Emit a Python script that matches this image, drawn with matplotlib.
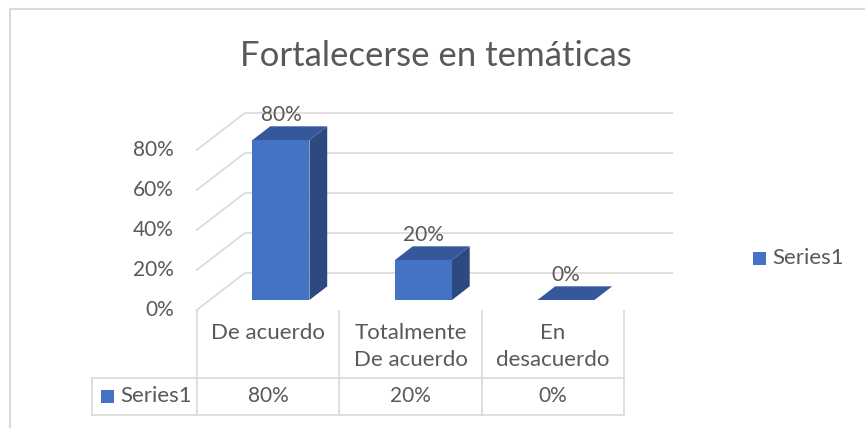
import matplotlib
import matplotlib.pyplot as plt
from matplotlib.patches import Polygon, Rectangle

matplotlib.use("Agg")

## Data
categories = ["De acuerdo", "Totalmente\nDe acuerdo", "En\ndesacuerdo"]
values = [0.80, 0.20, 0.00]
series_name = "Series1"
y_ticks = [0.0, 0.2, 0.4, 0.6, 0.8]
title = "Fortalecerse en temáticas"

## Style
FONT = "Lato"
TXT = "#595959"
GRID = "#D9D9D9"
FRONT, TOP, SIDE = "#4472C4", "#34589A", "#2C4A80"
W, H = 865, 428
FS_NUM, FS_WORD = 15, 16

# oblique depth: full depth shift in (category units, value units)
DX, DY = 48 / 142.5, 37 / 200
D1, D2 = 0.27, 0.64  # bar front/back depth fractions
BAR_W = 0.40

fig = plt.figure(figsize=(W / 100, H / 100), dpi=100)
ax = fig.add_axes([0, 0, 1, 1])
ax.set_xlim(-268 / 142.5, (W - 268) / 142.5)
ax.set_ylim(-118 / 200, (H - 118) / 200)
ax.axis("off")


def proj(x, v, d):
    return (x + d * DX, v + d * DY)


# chart border
fig.add_artist(plt.Line2D([10 / W, 10 / W, 1], [0, 1 - 9 / H, 1 - 9 / H],
                          transform=fig.transFigure, color=GRID, lw=1.5))

ax.text(0.504, 1 - 56 / H, title, transform=ax.transAxes, ha="center", va="center",
        fontsize=25, color=TXT, family=FONT)

# gridlines on side + back wall
x_left, x_right = -0.5, len(categories) - 0.5
for t in y_ticks:
    p0, p1, p2 = proj(x_left, t, 0), proj(x_left, t, 1), proj(x_right, t, 1)
    ax.plot([p0[0], p1[0], p2[0]], [p0[1], p1[1], p2[1]], color=GRID, lw=1.2, zorder=1)
    ax.annotate(f"{t:.0%}", p0, xytext=(-23, 0), textcoords="offset pixels",
                ha="right", va="center", fontsize=FS_NUM, color=TXT, family=FONT)

# 3D bars
for i, v in enumerate(values):
    l, r = i - BAR_W / 2, i + BAR_W / 2
    front = [proj(l, 0, D1), proj(r, 0, D1), proj(r, v, D1), proj(l, v, D1)]
    top = [proj(l, v, D1), proj(r, v, D1), proj(r, v, D2), proj(l, v, D2)]
    side = [proj(r, 0, D1), proj(r, 0, D2), proj(r, v, D2), proj(r, v, D1)]
    if v > 0:
        ax.add_patch(Polygon(side, closed=True, fc=SIDE, ec="none", zorder=3))
        ax.add_patch(Polygon(front, closed=True, fc=FRONT, ec="none", zorder=4))
    ax.add_patch(Polygon(top, closed=True, fc=TOP, ec="none", zorder=4))
    lx = proj(i, v, D1)[0]
    ly = proj(i, v, D2)[1]
    ax.annotate(f"{v:.0%}", (lx, ly), xytext=(0, 11), textcoords="offset pixels",
                ha="center", va="center", fontsize=FS_NUM, color=TXT, family=FONT, zorder=5)

# data table
xt = ax.get_xaxis_transform()
y_top, y_mid, y_bot = 1 - 311 / H, 1 - 378 / H, 1 - 415 / H
x_lab = -268 / 142.5 + 92 / 142.5
for b in [x_left + k for k in range(len(categories) + 1)]:
    ax.plot([b, b], [y_top, y_bot], transform=xt, color=GRID, lw=1.2)
ax.plot([x_lab, x_lab], [y_mid, y_bot], transform=xt, color=GRID, lw=1.2)
for yy in (y_mid, y_bot):
    ax.plot([x_lab, x_right], [yy, yy], transform=xt, color=GRID, lw=1.2)
for i, (c, v) in enumerate(zip(categories, values)):
    ax.text(i, 1 - 323 / H, c, transform=xt, ha="center", va="top",
            fontsize=FS_WORD, color=TXT, family=FONT, linespacing=1.45)
    ax.text(i, (y_mid + y_bot) / 2, f"{v:.0%}", transform=xt, ha="center", va="center",
            fontsize=FS_NUM, color=TXT, family=FONT)

# series keys (table row + legend)
for kx, ky in [(101, 396), (753, 258)]:
    fig.add_artist(Rectangle((kx / W, 1 - (ky + 6.5) / H), 13 / W, 13 / H,
                             transform=fig.transFigure, fc=FRONT, ec="none"))
    fig.text((kx + 19) / W, 1 - ky / H, series_name, ha="left", va="center",
             fontsize=FS_WORD, color=TXT, family=FONT)

plt.savefig("out.png", dpi=100)
